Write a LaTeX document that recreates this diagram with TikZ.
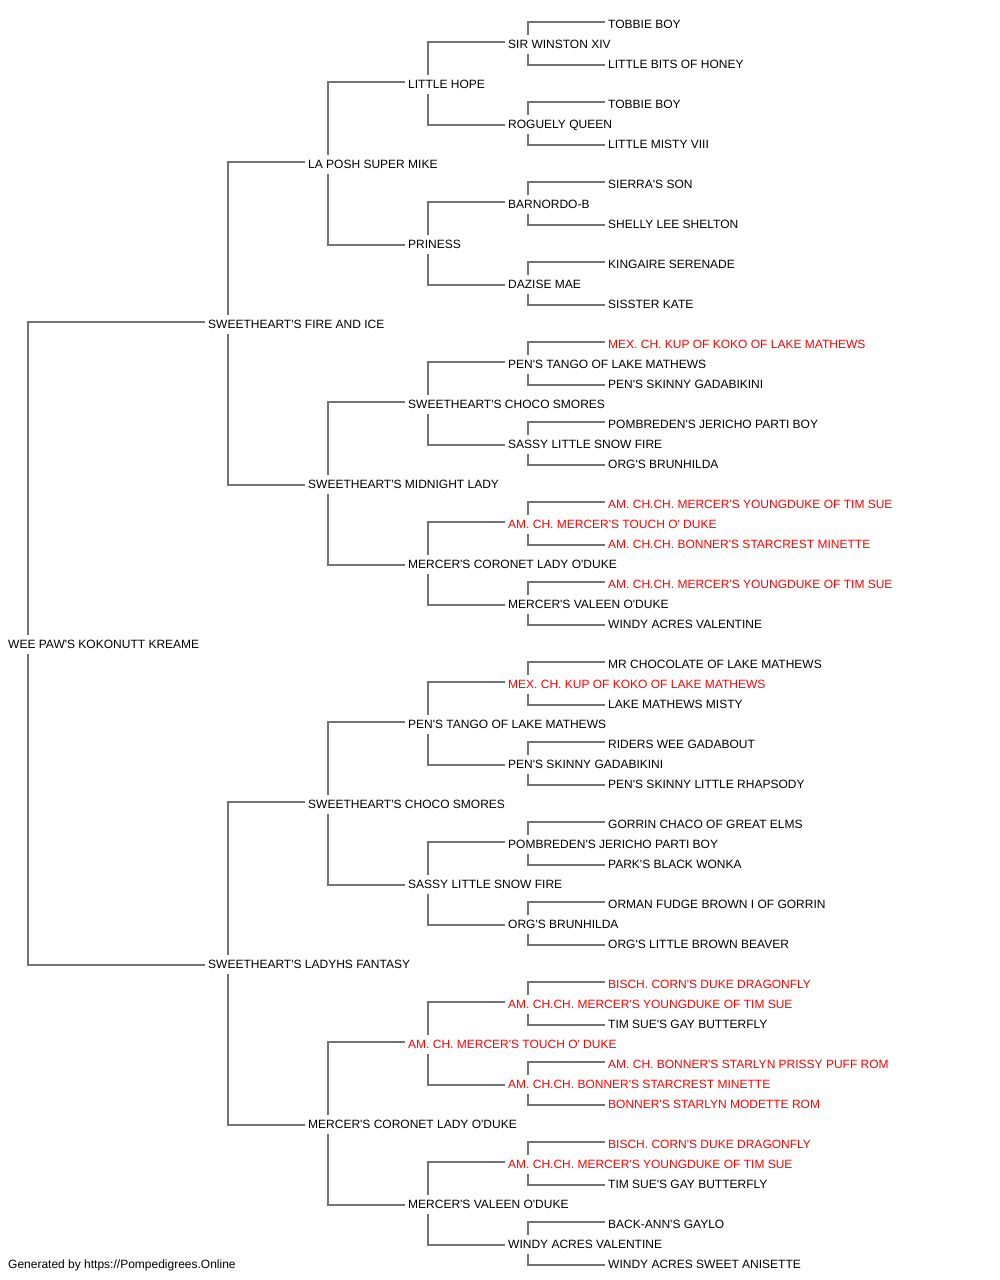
\documentclass[tikz,border=0pt]{standalone}
\usepackage{fontspec}
\setmainfont{Liberation Sans}[Ligatures=TeXOff]
\definecolor{linegray}{RGB}{115,115,115}
\definecolor{champ}{RGB}{255,0,0}
\begin{document}
\begin{tikzpicture}[x=1pt,y=-1pt,
  pn/.style={anchor=base west,inner sep=0pt,text height=13.5pt,text depth=5.5pt,
    font=\fontsize{12}{14}\selectfont,text=black},
  red/.style={pn,text=champ},
  conn/.style={draw=linegray,line width=1.2pt}]
\fill[white] (0,0) rectangle (1000,1280);
\useasboundingbox (0,0) rectangle (1000,1280);
% generation 0
\node[pn] (g0-0) at (8,648.5) {WEE PAW'S KOKONUTT KREAME};
% generation 1
\node[pn] (g1-0) at (208,328.5) {SWEETHEART'S FIRE AND ICE};
\node[pn] (g1-1) at (208,968.5) {SWEETHEART'S LADYHS FANTASY};
% generation 2
\node[pn] (g2-0) at (308,168.5) {LA POSH SUPER MIKE};
\node[pn] (g2-1) at (308,488.5) {SWEETHEART'S MIDNIGHT LADY};
\node[pn] (g2-2) at (308,808.5) {SWEETHEART'S CHOCO SMORES};
\node[pn] (g2-3) at (308,1128.5) {MERCER'S CORONET LADY O'DUKE};
% generation 3
\node[pn] (g3-0) at (408,88.5) {LITTLE HOPE};
\node[pn] (g3-1) at (408,248.5) {PRINESS};
\node[pn] (g3-2) at (408,408.5) {SWEETHEART'S CHOCO SMORES};
\node[pn] (g3-3) at (408,568.5) {MERCER'S CORONET LADY O'DUKE};
\node[pn] (g3-4) at (408,728.5) {PEN'S TANGO OF LAKE MATHEWS};
\node[pn] (g3-5) at (408,888.5) {SASSY LITTLE SNOW FIRE};
\node[red] (g3-6) at (408,1048.5) {AM. CH. MERCER'S TOUCH O' DUKE};
\node[pn] (g3-7) at (408,1208.5) {MERCER'S VALEEN O'DUKE};
% generation 4
\node[pn] (g4-0) at (508,48.5) {SIR WINSTON XIV};
\node[pn] (g4-1) at (508,128.5) {ROGUELY QUEEN};
\node[pn] (g4-2) at (508,208.5) {BARNORDO-B};
\node[pn] (g4-3) at (508,288.5) {DAZISE MAE};
\node[pn] (g4-4) at (508,368.5) {PEN'S TANGO OF LAKE MATHEWS};
\node[pn] (g4-5) at (508,448.5) {SASSY LITTLE SNOW FIRE};
\node[red] (g4-6) at (508,528.5) {AM. CH. MERCER'S TOUCH O' DUKE};
\node[pn] (g4-7) at (508,608.5) {MERCER'S VALEEN O'DUKE};
\node[red] (g4-8) at (508,688.5) {MEX. CH. KUP OF KOKO OF LAKE MATHEWS};
\node[pn] (g4-9) at (508,768.5) {PEN'S SKINNY GADABIKINI};
\node[pn] (g4-10) at (508,848.5) {POMBREDEN'S JERICHO PARTI BOY};
\node[pn] (g4-11) at (508,928.5) {ORG'S BRUNHILDA};
\node[red] (g4-12) at (508,1008.5) {AM. CH.CH. MERCER'S YOUNGDUKE OF TIM SUE};
\node[red] (g4-13) at (508,1088.5) {AM. CH.CH. BONNER'S STARCREST MINETTE};
\node[red] (g4-14) at (508,1168.5) {AM. CH.CH. MERCER'S YOUNGDUKE OF TIM SUE};
\node[pn] (g4-15) at (508,1248.5) {WINDY ACRES VALENTINE};
% generation 5
\node[pn] (g5-0) at (608,28.5) {TOBBIE BOY};
\node[pn] (g5-1) at (608,68.5) {LITTLE BITS OF HONEY};
\node[pn] (g5-2) at (608,108.5) {TOBBIE BOY};
\node[pn] (g5-3) at (608,148.5) {LITTLE MISTY VIII};
\node[pn] (g5-4) at (608,188.5) {SIERRA'S SON};
\node[pn] (g5-5) at (608,228.5) {SHELLY LEE SHELTON};
\node[pn] (g5-6) at (608,268.5) {KINGAIRE SERENADE};
\node[pn] (g5-7) at (608,308.5) {SISSTER KATE};
\node[red] (g5-8) at (608,348.5) {MEX. CH. KUP OF KOKO OF LAKE MATHEWS};
\node[pn] (g5-9) at (608,388.5) {PEN'S SKINNY GADABIKINI};
\node[pn] (g5-10) at (608,428.5) {POMBREDEN'S JERICHO PARTI BOY};
\node[pn] (g5-11) at (608,468.5) {ORG'S BRUNHILDA};
\node[red] (g5-12) at (608,508.5) {AM. CH.CH. MERCER'S YOUNGDUKE OF TIM SUE};
\node[red] (g5-13) at (608,548.5) {AM. CH.CH. BONNER'S STARCREST MINETTE};
\node[red] (g5-14) at (608,588.5) {AM. CH.CH. MERCER'S YOUNGDUKE OF TIM SUE};
\node[pn] (g5-15) at (608,628.5) {WINDY ACRES VALENTINE};
\node[pn] (g5-16) at (608,668.5) {MR CHOCOLATE OF LAKE MATHEWS};
\node[pn] (g5-17) at (608,708.5) {LAKE MATHEWS MISTY};
\node[pn] (g5-18) at (608,748.5) {RIDERS WEE GADABOUT};
\node[pn] (g5-19) at (608,788.5) {PEN'S SKINNY LITTLE RHAPSODY};
\node[pn] (g5-20) at (608,828.5) {GORRIN CHACO OF GREAT ELMS};
\node[pn] (g5-21) at (608,868.5) {PARK'S BLACK WONKA};
\node[pn] (g5-22) at (608,908.5) {ORMAN FUDGE BROWN I OF GORRIN};
\node[pn] (g5-23) at (608,948.5) {ORG'S LITTLE BROWN BEAVER};
\node[red] (g5-24) at (608,988.5) {BISCH. CORN'S DUKE DRAGONFLY};
\node[pn] (g5-25) at (608,1028.5) {TIM SUE'S GAY BUTTERFLY};
\node[red] (g5-26) at (608,1068.5) {AM. CH. BONNER'S STARLYN PRISSY PUFF ROM};
\node[red] (g5-27) at (608,1108.5) {BONNER'S STARLYN MODETTE ROM};
\node[red] (g5-28) at (608,1148.5) {BISCH. CORN'S DUKE DRAGONFLY};
\node[pn] (g5-29) at (608,1188.5) {TIM SUE'S GAY BUTTERFLY};
\node[pn] (g5-30) at (608,1228.5) {BACK-ANN'S GAYLO};
\node[pn] (g5-31) at (608,1268.5) {WINDY ACRES SWEET ANISETTE};
% footer
\node[pn] (foot) at (8,1268.5) {Generated by https://Pompedigrees.Online};
% connectors
\foreach \g in {0,...,4}{
  \pgfmathtruncatemacro\gn{\g+1}
  \pgfmathtruncatemacro\kmax{2^\g-1}
  \foreach \k in {0,...,\kmax}{
    \pgfmathtruncatemacro\s{2*\k}
    \pgfmathtruncatemacro\d{2*\k+1}
    \draw[conn] ([xshift=20pt]g\g-\k.north west) |- ([xshift=-3pt,yshift=2.5pt]g\gn-\s.west);
    \draw[conn] ([xshift=20pt]g\g-\k.south west) |- ([xshift=-3pt,yshift=-0.5pt]g\gn-\d.west);
  }
}
\end{tikzpicture}
\end{document}
